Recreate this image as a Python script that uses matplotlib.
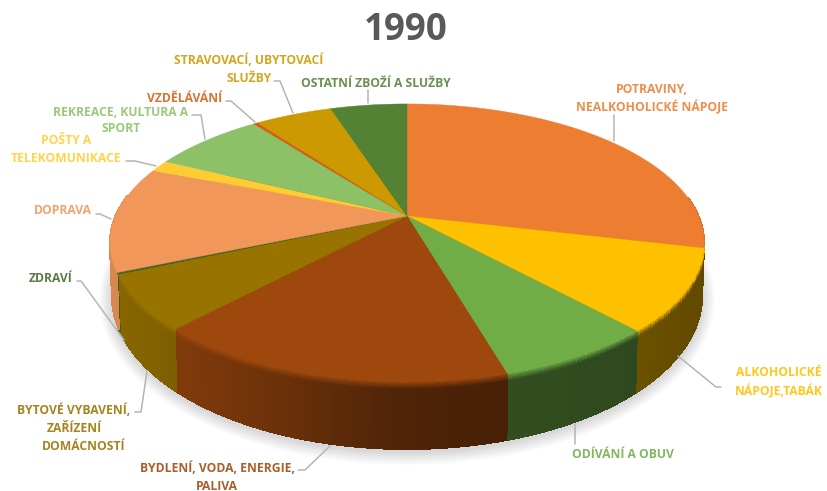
import numpy as np
import matplotlib
matplotlib.use("Agg")
import matplotlib.pyplot as plt
from matplotlib.collections import PolyCollection
from matplotlib.colors import to_rgb

title = "1990"
categories = ["POTRAVINY,\nNEALKOHOLICKÉ NÁPOJE", "ALKOHOLICKÉ\nNÁPOJE,TABÁK", "ODÍVÁNÍ A OBUV",
              "BYDLENÍ, VODA, ENERGIE,\nPALIVA", "BYTOVÉ VYBAVENÍ,\nZAŘÍZENÍ\nDOMÁCNOSTÍ", "ZDRAVÍ",
              "DOPRAVA", "POŠTY A\nTELEKOMUNIKACE", "REKREACE, KULTURA A\nSPORT", "VZDĚLÁVÁNÍ",
              "STRAVOVACÍ, UBYTOVACÍ\nSLUŽBY", "OSTATNÍ ZBOŽÍ A SLUŽBY"]
values = [28.67, 9.5, 7.3, 16.5, 6.4, 0.2, 12.3, 1.35, 7.35, 0.3, 5.05, 5.03]
colors = ["#ED7D31", "#FFC000", "#70AD47", "#9E480E", "#997300", "#43682B",
          "#F1975A", "#FFCD33", "#8CC168", "#D26012", "#CC9A00", "#548235"]

# per-line label placement: (centre x, centre y) for each text line, and leader path
label_pos = [[(652, 89), (652, 107)], [(779, 373), (779, 391)], [(623, 455)],
             [(217, 468), (217, 486)], [(74, 410), (74, 428), (84, 446)], [(51, 279)],
             [(63, 211)], [(66, 140), (66, 158)], [(121, 112), (121, 129)], [(185, 98)],
             [(249, 60), (249, 78)], [(376, 83)]]
leaders = [[(614, 115), (614, 141)], [(678, 356), (716, 387), (721, 387)], [(575, 424), (575, 444)],
           [(330, 446), (305, 470), (298, 470)], [(147, 371), (141, 412), (135, 412)],
           [(124, 340), (81, 281), (77, 281)], [(111, 219), (100, 214), (96, 214)],
           [(156, 166), (135, 161), (126, 161)], [(205, 139), (201, 115), (192, 115)],
           [(255, 122), (231, 101), (226, 101)], [(293, 113), (280, 81), (274, 81)],
           [(368, 90), (368, 103)]]

K = 0.194
CX = 407
TOP = dict(A=291.4, Y0=216.0, C=133.8)
BOT = dict(A=289.4, Y0=266.3, C=147.2)


def project(theta, g, r=1.0):
    u, v = r * np.sin(theta), -r * np.cos(theta)
    d = 1 - K * v
    return CX + g["A"] * u / d, g["Y0"] + g["C"] * v / d


def side_shade(x):
    return np.interp(x, [110, 150, 250, 400, 510, 640, 705], [0.9, 0.85, 0.72, 0.5, 0.45, 0.42, 0.38])


plt.rcParams["font.family"] = ["Open Sans", "DejaVu Sans"]
fig = plt.figure(figsize=(8.27, 4.91), dpi=100)
ax = fig.add_axes([0, 0, 1, 1])
ax.set_xlim(0, 827)
ax.set_ylim(491, 0)
ax.axis("off")

# soft shadow under the pie
full = np.linspace(0, 2 * np.pi, 361)
bx, by = project(full, BOT)
for grow in np.arange(13, 0, -1):
    sx = CX + (bx - CX) * (1 + grow / 295)
    sy = 299 + (by - 296) * (1 + grow / 153)
    ax.fill(sx, sy, color="#000000", alpha=0.013, lw=0, zorder=1)

edges = np.concatenate([[0], np.cumsum(values)]) / np.sum(values) * 2 * np.pi

# side wall: solid silhouette first so that no seams show, then the shaded quads
ax.fill(bx, by, color="#5A3A10", lw=0, zorder=1.5)
polys, cols = [], []
ts = np.concatenate([np.linspace(0, 0.12, 6), np.linspace(0.12, 1, 4)[1:]])
for i, col in enumerate(colors):
    base = np.array(to_rgb(col))
    n = max(2, int((edges[i + 1] - edges[i]) / 0.012))
    th = np.linspace(edges[i], edges[i + 1], n + 1)
    tx, ty = project(th, TOP)
    qx, qy = project(th, BOT)
    for a in range(n):
        if -np.cos(th[a]) < -0.15:
            continue
        shade = side_shade((tx[a] + tx[a + 1]) / 2)
        for b in range(len(ts) - 1):
            t0, t1 = ts[b], ts[b + 1]
            p = [(tx[a] + (qx[a] - tx[a]) * t0, ty[a] + (qy[a] - ty[a]) * t0),
                 (tx[a + 1] + (qx[a + 1] - tx[a + 1]) * t0, ty[a + 1] + (qy[a + 1] - ty[a + 1]) * t0),
                 (tx[a + 1] + (qx[a + 1] - tx[a + 1]) * t1, ty[a + 1] + (qy[a + 1] - ty[a + 1]) * t1),
                 (tx[a] + (qx[a] - tx[a]) * t1, ty[a] + (qy[a] - ty[a]) * t1)]
            mix = min(1.0, ((t0 + t1) / 2) / 0.12)
            polys.append(p)
            cols.append(np.clip(base * (1.0 + (shade - 1.0) * mix), 0, 1))
pc = PolyCollection(polys, facecolors=cols, edgecolors=cols, linewidths=0.8, antialiaseds=False, zorder=2)
ax.add_collection(pc)

# top face
for i, col in enumerate(colors):
    th = np.linspace(edges[i], edges[i + 1], max(3, int((edges[i + 1] - edges[i]) / 0.01)))
    x, y = project(th, TOP)
    ax.fill(np.r_[CX, x], np.r_[TOP["Y0"], y], color=col, lw=0.3, zorder=3)

# labels and leader lines
for i, name in enumerate(categories):
    for line, (lx, ly) in zip(name.split("\n"), label_pos[i]):
        ax.text(lx, ly, line, ha="center", va="center", fontsize=8.7, fontweight="bold",
                color=colors[i], alpha=0.88, zorder=5)
    path = np.array(leaders[i])
    ax.plot(path[:, 0], path[:, 1], color="#B5B5B5", lw=1.1, zorder=4, solid_capstyle="round")

ax.text(406, 30, title, ha="center", va="center", fontsize=26.5, fontweight="bold", color="#595959", zorder=5)

fig.savefig("out.png", dpi=100, facecolor="white")
